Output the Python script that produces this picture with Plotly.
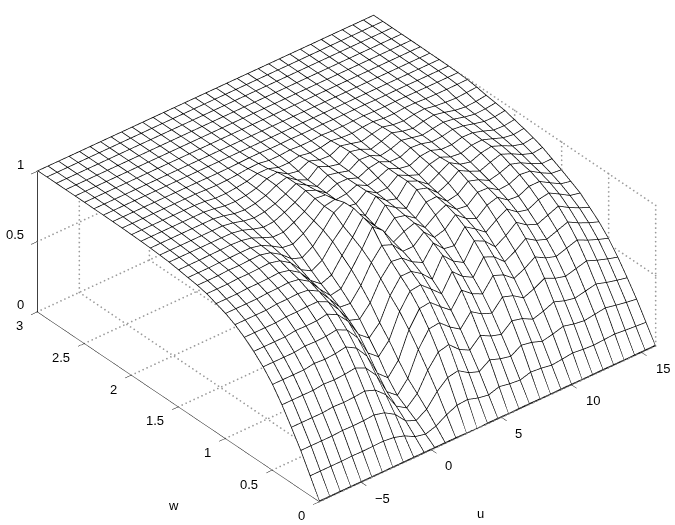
import numpy as np
import plotly.graph_objects as go

# mesh grid
U = [-8.0, -7.25, -6.5, -5.75, -5.0, -4.25, -3.5, -2.75, -2.0, -1.25, -0.5, 0.25, 1.0, 1.75, 2.5, 3.25, 4.0,
     4.75, 5.5, 6.25, 7.0, 7.75, 8.5, 9.25, 10.0, 10.75, 11.5, 12.25, 13.0, 13.75, 14.5, 15.25, 16.0]
W = [0.0, 0.1, 0.2, 0.3, 0.4, 0.5, 0.6, 0.7, 0.8, 0.9, 1.0, 1.1, 1.2, 1.3, 1.4, 1.5, 1.6, 1.7, 1.8, 1.9,
     2.0, 2.1, 2.2, 2.3, 2.4, 2.5, 2.6, 2.7, 2.8, 2.9, 3.0]

# surface heights, one list per w line
Z_W00 = [0.0] * 33
Z_W01 = [.135, .135, .135, .135, .138, .136, .138, .14, .131, .108, .068, .051, .074, .12, .153, .159, .135, .122, .146, .132, .124, .146, .139, .126, .134, .144, .135, .13, .135, .14, .132, .126, .12]
Z_W02 = [.27, .27, .27, .27, .275, .273, .275, .281, .262, .216, .135, .103, .149, .24, .305, .319, .27, .243, .292, .265, .248, .292, .278, .251, .267, .289, .27, .259, .27, .281, .265, .251, .24]
Z_W03 = [.39, .39, .39, .39, .398, .394, .398, .406, .378, .312, .195, .148, .215, .347, .441, .46, .39, .351, .421, .382, .359, .421, .402, .363, .386, .417, .39, .374, .39, .406, .382, .363, .347]
Z_W04 = [.505, .505, .505, .505, .515, .51, .515, .525, .49, .404, .253, .192, .278, .449, .56, .57, .505, .455, .545, .495, .465, .545, .52, .47, .5, .54, .505, .485, .505, .525, .495, .47, .449]
Z_W05 = [.605, .605, .605, .605, .617, .611, .617, .63, .587, .496, .339, .272, .363, .545, .66, .67, .605, .545, .653, .593, .557, .653, .623, .563, .599, .647, .605, .581, .605, .629, .593, .563, .538]
Z_W06 = [.685, .685, .685, .685, .695, .692, .695, .706, .671, .582, .438, .377, .459, .63, .74, .75, .685, .617, .74, .671, .63, .74, .706, .637, .678, .733, .685, .658, .685, .712, .671, .637, .61]
Z_W07 = [.75, .75, .75, .75, .76, .758, .76, .773, .735, .653, .525, .465, .54, .698, .80, .80, .75, .675, .81, .735, .69, .81, .773, .698, .743, .803, .75, .72, .75, .78, .735, .698, .668]
Z_W08 = [.805, .805, .805, .805, .813, .813, .817, .817, .781, .692, .58, .555, .636, .773, .86, .85, .789, .749, .853, .778, .765, .865, .815, .757, .81, .853, .797, .778, .815, .828, .786, .741, .725]
Z_W09 = [.85, .85, .85, .85, .859, .859, .863, .854, .812, .723, .629, .621, .714, .842, .93, .90, .819, .819, .886, .814, .835, .906, .845, .809, .87, .891, .837, .83, .865, .865, .821, .779, .763]
Z_W10 = [.885, .885, .885, .885, .891, .892, .897, .885, .837, .746, .667, .681, .782, .894, 1.018, .956, .839, .88, .905, .839, .894, .931, .865, .854, .916, .913, .865, .87, .903, .894, .847, .808, .8]
Z_W11 = [.91, .91, .91, .915, .915, .917, .922, .905, .855, .764, .705, .733, .837, .932, 1.04, .95, .854, .932, .914, .86, .94, .945, .877, .891, .95, .926, .886, .904, .932, .908, .867, .833, .834]
Z_W12 = [.935, .935, .935, .94, .939, .942, .946, .928, .879, .795, .752, .793, .891, .967, 1.059, .948, .87, .978, .925, .884, .984, .961, .892, .927, .981, .941, .908, .936, .958, .927, .887, .86, .869]
Z_W13 = [.95, .95, .95, .955, .953, .957, .959, .94, .893, .827, .801, .846, .927, 1.017, 1.056, .946, .893, .996, .931, .908, .999, .965, .908, .95, .992, .946, .927, .956, .969, .939, .903, .882, .893]
Z_W14 = [.96, .96, .96, .963, .963, .965, .964, .947, .908, .862, .852, .893, .95, 1.018, 1.032, .944, .931, .988, .939, .941, .997, .96, .93, .97, .986, .953, .944, .967, .97, .944, .916, .904, .914]
Z_W15 = [.97, .97, .97, .972, .973, .975, .971, .955, .922, .892, .892, .927, .97, 1.028, 1.019, .95, .958, .986, .947, .967, .999, .964, .95, .982, .989, .961, .96, .979, .976, .953, .926, .922, .932]
Z_W16 = [.98, .98, .98, .98, .98, .98, .979, .965, .938, .917, .923, .954, .99, 1.039, 1.007, .953, .985, .985, .956, .99, 1.002, .967, .966, .998, .991, .97, .975, .99, .98, .96, .942, .941, .951]
Z_W17 = [.985, .985, .985, .985, .985, .985, .985, .972, .951, .938, .947, .97, 1.005, 1.044, .998, .954, 1.0, .983, .961, 1.005, 1.0, .965, .978, 1.005, .989, .973, .985, .996, .983, .963, .949, .952, .961]
Z_W18 = [.99, .99, .99, .99, .99, .99, .99, .977, .958, .95, .961, .983, 1.02, 1.044, .99, .956, 1.016, .982, .964, 1.018, 1.0, .966, .988, 1.014, .99, .976, .992, 1.002, .986, .966, .955, .96, .97]
Z_W19 = [.993, .993, .993, .993, .993, .993, .993, .983, .968, .965, .973, .99, 1.023, 1.035, .988, .973, 1.01, .984, .979, 1.014, .996, .976, .995, 1.01, .991, .984, .996, 1.001, .986, .978, .973, .978, .983]
Z_W20 = [.995, .995, .995, .995, .995, .995, .995, .99, .978, .977, .984, .994, 1.015, 1.015, .989, .988, 1.002, .988, .991, 1.006, .994, .989, .998, 1.003, .992, .991, .998, .998, .993, .991, .99, .991, .992]
Z_W21 = [.997, .997, .997, .997, .997, .997, .997, .997, .993, .99, .992, .997, 1.005, 1.007, .994, .994, 1.0, .994, .995, 1.001, .996, .995, .998, 1.0, .996, .996, .998, .998, .997, .996, .996, .996, .996]
Z_W22 = [.998, .998, .998, .998, .998, .998, .998, .998, .998, .997, .996, .997, .999, 1.002, 1.002, .998, .998, 1.0, .998, .998, 1.0, .998, .998, .999, 1.0, .998, .998, .999, .999, .998, .998, .998, .998]
Z_W23 = [.999] * 33
Z_W24 = [.999] * 33
Z_W25 = [1.0] * 33
Z_W26 = [1.0] * 33
Z_W27 = [1.0] * 33
Z_W28 = [1.0] * 33
Z_W29 = [1.0] * 33
Z_W30 = [1.0] * 33

Z = [Z_W00, Z_W01, Z_W02, Z_W03, Z_W04, Z_W05, Z_W06, Z_W07, Z_W08, Z_W09, Z_W10, Z_W11, Z_W12, Z_W13, Z_W14,
     Z_W15, Z_W16, Z_W17, Z_W18, Z_W19, Z_W20, Z_W21, Z_W22, Z_W23, Z_W24, Z_W25, Z_W26, Z_W27, Z_W28, Z_W29, Z_W30]

U_TICKS = [-5, 0, 5, 10, 15]
W_TICKS = [0, 0.5, 1, 1.5, 2, 2.5, 3]
Z_TICKS = [0, 0.5, 1]
U_LABELS = ["\u22125", "0", "5", "10", "15"]
W_LABELS = ["0", "0.5", "1", "1.5", "2", "2.5", "3"]
Z_LABELS = ["0", "0.5", "1"]
U_MIN, U_MAX = -8, 16
W_MIN, W_MAX = 0, 3
LIFT = 0.004  # keeps the mesh lines just above the white surface
INSET = 0.02  # lines exactly on the scene bounds get clipped


def inside(v, lo, hi):
    return min(max(v, lo + INSET * (hi - lo) / 24), hi - INSET * (hi - lo) / 24)


fig = go.Figure()

fig.add_trace(go.Surface(
    x=U, y=W, z=Z,
    colorscale=[[0, "white"], [1, "white"]],
    showscale=False,
    lighting=dict(ambient=1, diffuse=0, specular=0, roughness=1, fresnel=0),
    hoverinfo="skip",
))

# mesh lines
mx, my, mz = [], [], []
for i, w in enumerate(W):
    for j, u in enumerate(U):
        mx.append(inside(u, U_MIN, U_MAX)); my.append(inside(w, W_MIN, W_MAX)); mz.append(Z[i][j] + LIFT)
    mx.append(None); my.append(None); mz.append(None)
for j, u in enumerate(U):
    for i, w in enumerate(W):
        mx.append(inside(u, U_MIN, U_MAX)); my.append(inside(w, W_MIN, W_MAX)); mz.append(Z[i][j] + LIFT)
    mx.append(None); my.append(None); mz.append(None)
fig.add_trace(go.Scatter3d(x=mx, y=my, z=mz, mode="lines", line=dict(color="black", width=1.5), hoverinfo="skip"))

# dotted grid on the floor and the two back walls
gx, gy, gz = [], [], []
def dots(a, b, n):
    gx.extend(np.linspace(a[0], b[0], n)); gy.extend(np.linspace(a[1], b[1], n)); gz.extend(np.linspace(a[2], b[2], n))

for u in U_TICKS:
    dots((u, W_MIN, 0), (u, W_MAX, 0), 78)
    dots((u, W_MAX, 0), (u, W_MAX, 1), 32)
for w in W_TICKS:
    dots((U_MIN, w, 0), (U_MAX, w, 0), 86)
    dots((U_MAX, w, 0), (U_MAX, w, 1), 32)
for z in Z_TICKS:
    dots((U_MIN, W_MAX, z), (U_MAX, W_MAX, z), 86)
    dots((U_MAX, W_MIN, z), (U_MAX, W_MAX, z), 78)
fig.add_trace(go.Scatter3d(x=gx, y=gy, z=gz, mode="markers", marker=dict(color="#9a9a9a", size=1), hoverinfo="skip"))

# z axis line
fig.add_trace(go.Scatter3d(x=[U_MIN + INSET, U_MIN + INSET], y=[W_MAX - 0.002, W_MAX - 0.002], z=[0, 1], mode="lines",
                           line=dict(color="black", width=1.5), hoverinfo="skip"))

axis_base = dict(
    showgrid=False, zeroline=False, showbackground=False, showspikes=False,
    showline=True, linecolor="black", linewidth=1, showticklabels=False,
    ticks="outside", ticklen=8, tickcolor="black", tickwidth=1,
    title=dict(text=""),
)

tick_font = dict(family="Liberation Sans", size=13, color="black")
labels = []
for u, t in zip(U_TICKS, U_LABELS):
    labels.append(dict(x=u, y=W_MIN, z=0, text=t, showarrow=False, xanchor="left", xshift=12, yshift=-16, font=tick_font))
for w, t in zip(W_TICKS, W_LABELS):
    labels.append(dict(x=U_MIN, y=w, z=0, text=t, showarrow=False, xanchor="right", xshift=-12, yshift=-14, font=tick_font))
for z, t in zip(Z_TICKS, Z_LABELS):
    labels.append(dict(x=U_MIN, y=W_MAX, z=z, text=t, showarrow=False, xanchor="right", xshift=-11, yshift=7, font=tick_font))

fig.update_layout(
    width=675, height=525,
    margin=dict(l=0, r=0, t=0, b=0),
    paper_bgcolor="white",
    showlegend=False,
    font=dict(family="Liberation Sans", size=13, color="black"),
    scene=dict(
        domain=dict(x=[0, 1], y=[0, 1]),
        xaxis=dict(axis_base, range=[U_MIN, U_MAX], tickvals=U_TICKS),
        yaxis=dict(axis_base, range=[W_MIN, W_MAX], tickvals=W_TICKS),
        zaxis=dict(axis_base, range=[0, 1.1], tickvals=Z_TICKS, showline=False),
        aspectmode="manual",
        aspectratio=dict(x=1.665, y=1.683, z=0.71),
        camera=dict(
            eye=dict(x=-0.673, y=-0.758, z=0.632),
            up=dict(x=0, y=0, z=1),
            center=dict(x=-0.0410, y=0.0040, z=-0.0345),
            projection=dict(type="orthographic"),
        ),
        annotations=labels,
    ),
    annotations=[
        dict(text="w", x=173 / 675, y=1 - 505 / 525, xref="paper", yref="paper", showarrow=False,
             xanchor="center", yanchor="middle"),
        dict(text="u", x=480 / 675, y=1 - 513 / 525, xref="paper", yref="paper", showarrow=False,
             xanchor="center", yanchor="middle"),
    ],
)

fig.write_html("out.html", config={"displayModeBar": False}, post_script="document.body.style.margin='0';")
